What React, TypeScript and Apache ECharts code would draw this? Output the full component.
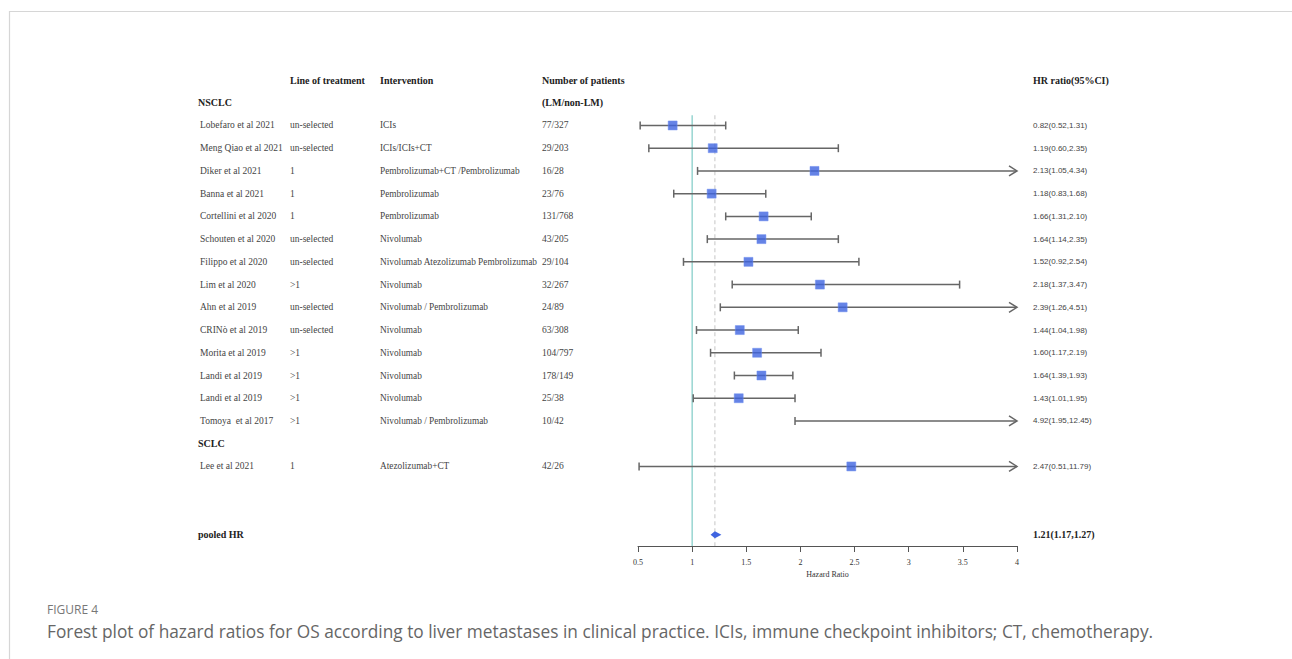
import React, { useEffect, useRef } from "react";
import * as echarts from "echarts";

// ---------- data ----------
const headers = ["Line of treatment", "Intervention", "Number of patients", "HR ratio(95%CI)"];
const subHeader = "(LM/non-LM)";
const groups = ["NSCLC", "SCLC"];
const studyGroup = [0, 0, 0, 0, 0, 0, 0, 0, 0, 0, 0, 0, 0, 0, 1];
const studies = [
  "Lobefaro et al 2021",
  "Meng Qiao et al 2021",
  "Diker et al 2021",
  "Banna et al 2021",
  "Cortellini et al 2020",
  "Schouten et al 2020",
  "Filippo et al 2020",
  "Lim et al 2020",
  "Ahn et al 2019",
  "CRINò et al 2019",
  "Morita et al 2019",
  "Landi et al 2019",
  "Landi et al 2019",
  "Tomoya  et al 2017",
  "Lee et al 2021",
];
const lineOfTreatment = [
  "un-selected", "un-selected", "1", "1", "1", "un-selected", "un-selected", ">1",
  "un-selected", "un-selected", ">1", ">1", ">1", ">1", "1",
];
const interventions = [
  "ICIs",
  "ICIs/ICIs+CT",
  "Pembrolizumab+CT /Pembrolizumab",
  "Pembrolizumab",
  "Pembrolizumab",
  "Nivolumab",
  "Nivolumab Atezolizumab Pembrolizumab",
  "Nivolumab",
  "Nivolumab / Pembrolizumab",
  "Nivolumab",
  "Nivolumab",
  "Nivolumab",
  "Nivolumab",
  "Nivolumab / Pembrolizumab",
  "Atezolizumab+CT",
];
const patients = [
  "77/327", "29/203", "16/28", "23/76", "131/768", "43/205", "29/104", "32/267",
  "24/89", "63/308", "104/797", "178/149", "25/38", "10/42", "42/26",
];
const hr = [0.82, 1.19, 2.13, 1.18, 1.66, 1.64, 1.52, 2.18, 2.39, 1.44, 1.6, 1.64, 1.43, 4.92, 2.47];
const lo = [0.52, 0.6, 1.05, 0.83, 1.31, 1.14, 0.92, 1.37, 1.26, 1.04, 1.17, 1.39, 1.01, 1.95, 0.51];
const hi = [1.31, 2.35, 4.34, 1.68, 2.1, 2.35, 2.54, 3.47, 4.51, 1.98, 2.19, 1.93, 1.95, 12.45, 11.79];
const pooledLabel = "pooled HR";
const pooledHr = 1.21;
const pooledLo = 1.17;
const pooledHi = 1.27;
const xMin = 0.5;
const xMax = 4;
const xInterval = 0.5;
const nullLine = 1;
const axisName = "Hazard Ratio";
const figureLabel = "FIGURE 4";
const caption =
  "Forest plot of hazard ratios for OS according to liver metastases in clinical practice. ICIs, immune checkpoint inhibitors; CT, chemotherapy.";

const fmt = (v: number) => v.toFixed(2);

// ---------- layout (row slots) ----------
const COL = { name: 200, group: 198, line: 290, interv: 380, pts: 542, hr: 1033 };
const SERIF = "'Liberation Serif', 'Times New Roman', serif";
const SANS = "'Liberation Sans', Arial, sans-serif";

type Cell = { x: number; text: string; bold?: boolean; sans?: boolean; size?: number };
type TRow = { row: number; cells: Cell[] };

function buildRows() {
  const rows: TRow[] = [];
  const studyRows: number[] = [];
  rows.push({
    row: 0,
    cells: [
      { x: COL.line, text: headers[0], bold: true },
      { x: COL.interv, text: headers[1], bold: true },
      { x: COL.pts, text: headers[2], bold: true },
      { x: COL.hr, text: headers[3], bold: true },
    ],
  });
  let r = 0;
  let g = -1;
  studies.forEach((s, i) => {
    if (studyGroup[i] !== g) {
      g = studyGroup[i];
      r += 1;
      const cells: Cell[] = [{ x: COL.group, text: groups[g], bold: true }];
      if (g === 0) cells.push({ x: COL.pts, text: subHeader, bold: true });
      rows.push({ row: r, cells });
    }
    r += 1;
    studyRows.push(r);
    rows.push({
      row: r,
      cells: [
        { x: COL.name, text: s },
        { x: COL.line, text: lineOfTreatment[i] },
        { x: COL.interv, text: interventions[i], size: 9.3 },
        { x: COL.pts, text: patients[i] },
        { x: COL.hr, text: `${fmt(hr[i])}(${fmt(lo[i])},${fmt(hi[i])})`, sans: true },
      ],
    });
  });
  const pooledRow = r + 3;
  rows.push({
    row: pooledRow,
    cells: [
      { x: COL.group, text: pooledLabel, bold: true },
      { x: COL.hr, text: `${fmt(pooledHr)}(${fmt(pooledLo)},${fmt(pooledHi)})`, bold: true },
    ],
  });
  return { rows, studyRows, pooledRow };
}

export default function App() {
  const ref = useRef<HTMLDivElement>(null);
  useEffect(() => {
    if (!ref.current) return;
    const chart = echarts.init(ref.current, null, { renderer: "svg" });
    const { rows, studyRows, pooledRow } = buildRows();
    const yMax = pooledRow + 0.5;
    const refTop = 1.55;

    const option: any = {
      animation: false,
      backgroundColor: "#fff",
      grid: { left: 638, right: 275, top: 80, height: 466, containLabel: false },
      xAxis: {
        type: "value",
        position: "bottom",
        min: xMin,
        max: xMax,
        interval: xInterval,
        splitLine: { show: false },
        axisLine: { show: true, onZero: false, lineStyle: { color: "#555", width: 1 } },
        axisTick: { show: true, length: 6, lineStyle: { color: "#555" } },
        axisLabel: {
          formatter: "{t|{value}}",
          rich: { t: { fontFamily: SERIF, fontSize: 8, color: "#333" } },
          fontFamily: SERIF,
          fontSize: 8,
          color: "#333",
          margin: 12,
        },
        name: axisName,
        nameLocation: "middle",
        nameGap: 20,
        nameTextStyle: { fontFamily: SERIF, fontSize: 8, color: "#333" },
      },
      yAxis: { type: "value", inverse: true, min: 0, max: yMax, show: false },
      series: [
        {
          type: "line",
          data: [[nullLine, refTop], [nullLine, yMax]],
          symbol: "none",
          lineStyle: { color: "#7ecbc6", width: 1.2 },
          z: 1,
        },
        {
          type: "line",
          data: [[pooledHr, refTop], [pooledHr, yMax]],
          symbol: "none",
          lineStyle: { color: "#cfcfcf", width: 1.2, type: [4, 3] },
          z: 1,
        },
        {
          type: "custom",
          z: 2,
          data: studies.map((_, i) => [lo[i], hi[i], studyRows[i]]),
          renderItem: (params: any, api: any) => {
            const l = api.value(0);
            const h = api.value(1);
            const row = api.value(2);
            const p1 = api.coord([Math.max(l, xMin), row]);
            const p2 = api.coord([Math.min(h, xMax), row]);
            const st = { stroke: "#666", lineWidth: 1.5, fill: "none" };
            const children: any[] = [
              { type: "line", shape: { x1: p1[0], y1: p1[1], x2: p2[0], y2: p2[1] }, style: st },
            ];
            if (l >= xMin)
              children.push({ type: "line", shape: { x1: p1[0], y1: p1[1] - 4, x2: p1[0], y2: p1[1] + 4 }, style: st });
            if (h <= xMax)
              children.push({ type: "line", shape: { x1: p2[0], y1: p2[1] - 4, x2: p2[0], y2: p2[1] + 4 }, style: st });
            else
              children.push({
                type: "polyline",
                shape: { points: [[p2[0] - 8, p2[1] - 5], [p2[0], p2[1]], [p2[0] - 8, p2[1] + 5]] },
                style: st,
              });
            return { type: "group", children };
          },
        },
        {
          type: "scatter",
          z: 3,
          symbol: "rect",
          symbolSize: 9,
          itemStyle: { color: "#3f64e0", borderColor: "#6f8ff0", borderWidth: 0.6 },
          data: studies
            .map((_, i) => [hr[i], studyRows[i]])
            .filter((d) => d[0] >= xMin && d[0] <= xMax),
        },
        {
          type: "custom",
          z: 3,
          data: [[pooledLo, pooledHr, pooledHi, pooledRow]],
          renderItem: (params: any, api: any) => {
            const row = api.value(3);
            const a = api.coord([api.value(0), row]);
            const c = api.coord([api.value(1), row]);
            const b = api.coord([api.value(2), row]);
            return {
              type: "polygon",
              shape: { points: [[a[0], a[1]], [c[0], c[1] - 3.5], [b[0], b[1]], [c[0], c[1] + 3.5]] },
              style: { fill: "#3f64e0" },
            };
          },
        },
        {
          type: "custom",
          z: 4,
          data: rows.map((r) => [xMin, r.row]),
          renderItem: (params: any, api: any) => {
            const r = rows[params.dataIndex];
            const y = api.coord([xMin, api.value(1)])[1];
            return {
              type: "group",
              children: r.cells.map((c) => ({
                type: "text",
                x: c.x,
                y,
                style: {
                  text: c.text,
                  fontFamily: c.sans ? SANS : SERIF,
                  fontSize: c.size ?? (c.bold ? 10 : c.sans ? 8 : 9.5),
                  fontWeight: c.bold ? "bold" : "normal",
                  fill: c.bold ? "#222" : "#444",
                  align: "left",
                  verticalAlign: "middle",
                },
              })),
            };
          },
        },
      ],
      graphic: [
        { type: "line", shape: { x1: 9, y1: 11.5, x2: 1292, y2: 11.5 }, style: { stroke: "#d6d6d6", lineWidth: 1.2 } },
        { type: "line", shape: { x1: 9.5, y1: 11, x2: 9.5, y2: 659 }, style: { stroke: "#d6d6d6", lineWidth: 1.2 } },
        {
          type: "text",
          x: 47,
          y: 609,
          style: {
            text: figureLabel,
            fontFamily: "'Open Sans', sans-serif",
            fontSize: 12,
            fill: "#777",
            verticalAlign: "middle",
          },
        },
        {
          type: "text",
          x: 47,
          y: 631,
          style: {
            text: caption,
            fontFamily: "'Open Sans', sans-serif",
            fontSize: 17.3,
            fill: "#666",
            verticalAlign: "middle",
          },
        },
      ],
    };
    chart.setOption(option);
    return () => chart.dispose();
  }, []);
  return (
    <div
      ref={ref}
      style={{ position: "fixed", left: 0, top: 0, width: 1292, height: 659, background: "#fff" }}
    />
  );
}
